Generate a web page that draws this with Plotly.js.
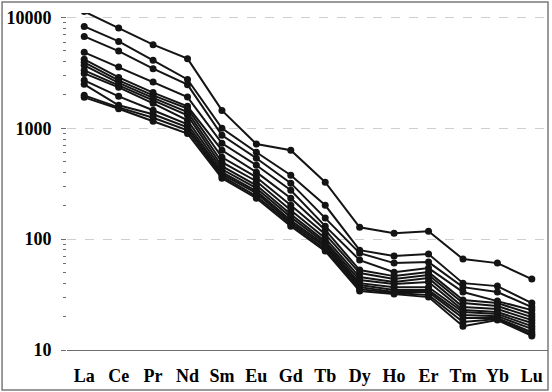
<!DOCTYPE html>
<html>
<head>
<meta charset="utf-8">
<script src="https://cdn.plot.ly/plotly-3.0.1.min.js"></script>
<style>html,body{margin:0;padding:0;background:#fff;}#chart{width:552px;height:392px;}</style>
</head>
<body>
<div id="chart"></div>
<script>
var elements = ["La","Ce","Pr","Nd","Sm","Eu","Gd","Tb","Dy","Ho","Er","Tm","Yb","Lu"];
var yTickVals = [10, 100, 1000, 10000];
var yTickText = ["10", "100", "1000", "10000"];

var s1  = [11300, 8010, 5680, 4250, 1450, 720, 634, 326, 128, 113, 118, 66.1, 60.8, 43.6];
var s2  = [8300, 6080, 4100, 2760, 1000, 608, 377, 202, 79.6, 70.3, 73.3, 40.1, 37.7, 26.5];
var s3  = [6745, 4970, 3450, 2476, 865, 537, 320, 155, 74.8, 60.8, 62.1, 36.9, 33.3, 24.4];
var s4  = [4840, 3565, 2612, 1914, 733, 464, 276, 131, 64.7, 50.4, 54.8, 33.3, 27.6, 22.9];
var s5  = [4190, 2879, 2098, 1578, 634, 402, 234, 121, 52.6, 46.4, 50.4, 28.2, 26.5, 21.1];
var s6  = [3935, 2706, 1983, 1504, 548, 362, 202, 111, 49.4, 43.6, 47.4, 26.5, 24.9, 19.8];
var s7  = [3698, 2570, 1883, 1403, 494, 333, 182, 102, 45.5, 41.0, 44.5, 24.4, 23.4, 18.6];
var s8  = [3334, 2440, 1787, 1309, 455, 306, 168, 96, 42.7, 39.3, 41.0, 22.9, 22.0, 17.5];
var s9  = [3127, 2340, 1680, 1180, 427, 288, 158, 92, 40.1, 36.9, 36.9, 22.0, 21.1, 16.4];
var s10 = [2706, 1942, 1453, 1087, 402, 271, 148, 88, 38.5, 34.7, 34.7, 20.7, 20.2, 15.5];
var s11 = [2490, 1611, 1337, 1021, 385, 260, 142, 85, 36.9, 33.3, 33.3, 19.4, 19.4, 14.5];
var s12 = [1983, 1545, 1244, 959, 370, 244, 137, 81, 35.4, 32.6, 31.3, 17.9, 19.0, 13.9];
var s13 = [1901, 1500, 1156, 896, 355, 234, 131, 78, 34.0, 32.0, 30.0, 16.4, 18.6, 13.4];

var allSeries = [s1,s2,s3,s4,s5,s6,s7,s8,s9,s10,s11,s12,s13];

var traces = allSeries.map(function(v){
  return {
    x: elements, y: v, type: 'scatter', mode: 'lines+markers',
    line: {color: '#141414', width: 2},
    marker: {color: '#141414', size: 7, symbol: 'circle'},
    showlegend: false, hoverinfo: 'skip'
  };
});

var minorVals = [];
[10, 100, 1000].forEach(function(base){
  for (var k = 2; k <= 9; k++) minorVals.push(base * k);
});

var fontTick = {family: 'Liberation Serif', size: 18, color: '#000', weight: 700};

var layout = {
  width: 552, height: 392,
  font: {family: 'Liberation Serif'},
  margin: {l: 67, r: 4, t: 13, b: 42},
  paper_bgcolor: '#fff', plot_bgcolor: '#fff',
  showlegend: false,
  xaxis: {
    type: 'category',
    range: [-0.5, 13.47],
    showgrid: false, zeroline: false,
    showline: true, linecolor: '#6e6e6e', linewidth: 1.3,
    ticks: 'outside', ticklen: 9, tickcolor: 'rgba(0,0,0,0)',
    tickfont: fontTick
  },
  yaxis: {
    type: 'log',
    range: [1, 4.04],
    tickvals: yTickVals, ticktext: yTickText,
    showgrid: true, gridcolor: '#cfcfcf', gridwidth: 1, griddash: 'dash',
    zeroline: false,
    showline: false,
    ticks: 'outside', ticklen: 5, tickcolor: '#6e6e6e', tickwidth: 1,
    ticklabelstandoff: 6,
    minor: {tickvals: minorVals, ticks: 'outside', ticklen: 3, tickcolor: '#6e6e6e', showgrid: false},
    tickfont: fontTick
  },
  shapes: [{
    type: 'rect', xref: 'paper', yref: 'paper',
    x0: -0.135, x1: 1.0, y0: -0.1187, y1: 1.0326,
    line: {color: '#7a7a7a', width: 1.5}, fillcolor: 'rgba(0,0,0,0)', layer: 'below'
  }, {
    type: 'line', xref: 'paper', yref: 'y',
    x0: 0, x1: 0, y0: 1, y1: 4,
    line: {color: '#6e6e6e', width: 1.3}, layer: 'above'
  }]
};

Plotly.newPlot('chart', traces, layout, {staticPlot: true, displayModeBar: false});
</script>
</body>
</html>
